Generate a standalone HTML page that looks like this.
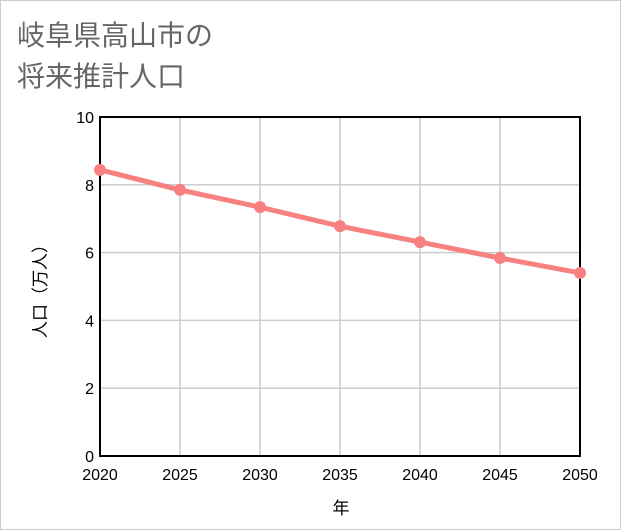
<!DOCTYPE html>
<html><head><meta charset="utf-8"><style>
body{margin:0;background:#fff}
svg{display:block;font-family:"Liberation Sans","Noto Sans CJK JP",sans-serif}
</style></head><body>
<svg width="621" height="530">
<rect x="0.5" y="0.5" width="620" height="529" fill="#fff" stroke="#ccc"/>
<text x="17" y="45" font-size="28" fill="#666">岐阜県高山市の</text>
<text x="17" y="86" font-size="28" fill="#666">将来推計人口</text>
<g id="grid"></g>
<g id="marks"></g>
<text x="341" y="514" font-size="17" text-anchor="middle">年</text>
<text transform="translate(46,287) rotate(-90)" font-size="17" text-anchor="middle">人口（万人）</text>
</svg>
<script>
const years=[2020,2025,2030,2035,2040,2045,2050];
const values=[8.44,7.85,7.34,6.78,6.31,5.84,5.40];
const yTicks=[0,2,4,6,8,10];
const L=100,R=580,T=117,B=456;
const xs=y=>L+(y-2020)/30*(R-L);
const ys=v=>B-v/10*(B-T);
const NS="http://www.w3.org/2000/svg";
function mk(t,a,p){const e=document.createElementNS(NS,t);for(const k in a)e.setAttribute(k,a[k]);p.appendChild(e);return e;}
const g=document.getElementById('grid'),m=document.getElementById('marks');
yTicks.forEach(v=>{
 const l=mk('line',{x1:L,x2:R,y1:ys(v),y2:ys(v),stroke:'#ccc','stroke-width':1.5},g);
 
 
 const t=mk('text',{x:L-6,y:ys(v)+6,'font-size':16,'text-anchor':'end'},g);t.textContent=v;
 
 
});
years.forEach(y=>{
 const l=mk('line',{x1:xs(y),x2:xs(y),y1:T,y2:B,stroke:'#ccc','stroke-width':1.5},g);
 
 
 const t=mk('text',{x:xs(y),y:B+24,'font-size':16,'text-anchor':'middle'},g);t.textContent=y;
 
 
});
const box=mk('rect',{x:L,y:T,width:R-L,height:B-T,fill:'none',stroke:'#000','stroke-width':2},g);


const pl=mk('polyline',{points:years.map((y,i)=>xs(y)+','+ys(values[i])).join(' '),fill:'none',stroke:'#f88080','stroke-width':5},m);


years.forEach((y,i)=>{
 const c=mk('circle',{cx:xs(y),cy:ys(values[i]),r:6,fill:'#f88080'},m);
 
 
});
</script>
</body></html>
